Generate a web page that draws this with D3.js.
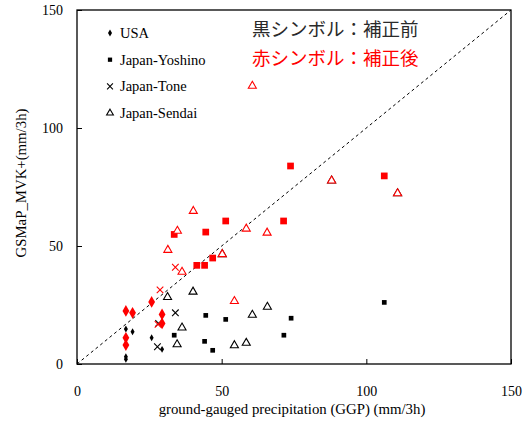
<!DOCTYPE html>
<html>
<head>
<meta charset="utf-8">
<script src="https://cdn.jsdelivr.net/npm/d3@7"></script>
<style>
  body { margin: 0; background: #fff; }
</style>
</head>
<body>
<div id="chart"></div>
<script>
let width = 532, height = 432;
let margin = { top: 10, right: 21, bottom: 68, left: 77 };
let serif = "'Liberation Serif', 'Times New Roman', serif";

// [GGP, GSMaP] pairs, before (black) and after (red) correction
let usa_before = [[16.9, 14.8], [19.2, 13.7], [25.8, 11.1], [29.4, 6.2], [16.9, 3.1], [16.9, 2.0]];
let usa_after = [[16.9, 22.5], [19.2, 21.7], [25.8, 26.3], [29.4, 21.0], [29.4, 17.2], [16.9, 11.1], [16.9, 8.0]];
let yoshino_before = [[106.2, 26.1], [44.5, 20.6], [51.4, 18.9], [74.0, 19.4], [71.5, 12.2], [44.1, 9.6], [46.9, 5.8], [33.6, 12.2]];
let yoshino_after = [[73.8, 83.9], [51.4, 60.6], [71.4, 60.6], [44.5, 55.9], [33.6, 54.9], [46.9, 44.9], [41.4, 41.8], [44.1, 41.8], [106.2, 79.7]];
let tone_before = [[34.0, 21.7], [28.2, 17.2], [27.8, 7.3]];
let tone_after = [[34.0, 41.0], [28.7, 31.4], [28.0, 16.8]];
let sendai_before = [[31.3, 28.3], [40.1, 30.6], [36.3, 15.4], [34.6, 8.3], [54.4, 7.9], [58.5, 8.9], [60.6, 20.8], [65.8, 24.2], [88.0, 77.7], [110.8, 72.3], [50.2, 46.5]];
let sendai_after = [[60.6, 117.8], [40.2, 64.8], [34.7, 56.4], [31.4, 48.3], [36.3, 39.0], [50.2, 46.5], [58.5, 57.3], [65.7, 55.6], [88.0, 77.7], [110.8, 72.3], [54.4, 26.6]];

let ticks = [0, 50, 100, 150];
let legend_names = ["USA", "Japan-Yoshino", "Japan-Tone", "Japan-Sendai"];
let note_lines = ["黒シンボル：補正前", "赤シンボル：補正後"];

let svg = d3.select("#chart").append("svg")
    .attr("width", width)
    .attr("height", height);

let x = d3.scaleLinear().domain([0, 150]).range([margin.left, width - margin.right]);
let y = d3.scaleLinear().domain([0, 150]).range([height - margin.bottom, margin.top]);

// frame
svg.append("rect")
    .attr("x", x(0)).attr("y", y(150))
    .attr("width", x(150) - x(0)).attr("height", y(0) - y(150))
    .attr("fill", "none").attr("stroke", "#000").attr("stroke-width", 1.3);

// axes with inward ticks
let xAxis = svg.append("g")
    .attr("transform", "translate(0," + y(0) + ")")
    .call(d3.axisBottom(x).tickValues(ticks).tickSize(-5).tickPadding(22).tickFormat(d3.format("d")));
xAxis.select(".domain").remove();
xAxis.attr("font-family", serif).attr("font-size", 14);
xAxis.selectAll("text").attr("fill", "#000");

let yAxis = svg.append("g")
    .attr("transform", "translate(" + x(0) + ",0)")
    .call(d3.axisLeft(y).tickValues(ticks).tickSize(-5).tickPadding(14).tickFormat(d3.format("d")));
yAxis.select(".domain").remove();
yAxis.attr("font-family", serif).attr("font-size", 14);
yAxis.selectAll("text").attr("fill", "#000");

// 1:1 line
svg.append("line")
    .attr("x1", x(0)).attr("y1", y(0))
    .attr("x2", x(150)).attr("y2", y(150))
    .attr("stroke", "#000").attr("stroke-width", 1)
    .attr("stroke-dasharray", "3,3");

// axis titles
svg.append("text")
    .attr("x", 292).attr("y", 414)
    .attr("text-anchor", "middle")
    .style("font-family", serif)
    .style("font-size", "14.8px")
    .text("ground-gauged precipitation (GGP) (mm/3h)");

svg.append("text")
    .attr("transform", "translate(26,183) rotate(-90)")
    .attr("text-anchor", "middle")
    .style("font-family", serif)
    .style("font-size", "14.8px")
    .text("GSMaP_MVK+(mm/3h)");

// marker shapes
let sym = {
    usa: d3.symbol().type(d3.symbolDiamond),
    square: d3.symbol().type(d3.symbolSquare),
    tri: d3.symbol().type(d3.symbolTriangle),
    cross: d3.symbol().type(d3.symbolX)
};

function drawSet(data, kind, color, size) {
    let g = svg.append("g");
    let filled = kind === "usa" || kind === "square";
    g.selectAll("path").data(data).enter().append("path")
        .attr("transform", d => "translate(" + x(d[0]) + "," + y(d[1]) + ")")
        .attr("d", sym[kind].size(size))
        .attr("fill", filled ? color : (kind === "tri" ? "#fff" : "none"))
        .attr("stroke", color)
        .attr("stroke-width", filled ? 0 : 1.1);
}

drawSet(usa_before, "usa", "#000", 14);
drawSet(yoshino_before, "square", "#000", 22);
drawSet(tone_before, "cross", "#000", 30);
drawSet(sendai_before, "tri", "#000", 28);

drawSet(usa_after, "usa", "#ff0000", 40);
drawSet(yoshino_after, "square", "#ff0000", 45);
drawSet(tone_after, "cross", "#ff0000", 30);
drawSet(sendai_after, "tri", "#ff0000", 28);

// legend
let kinds = ["usa", "square", "cross", "tri"];
let sizes = [14, 18, 24, 20];
legend_names.forEach(function (name, i) {
    let ly = 33 + i * 26.7;
    let filled = i < 2;
    svg.append("path")
        .attr("transform", "translate(110," + ly + ")")
        .attr("d", sym[kinds[i]].size(sizes[i]))
        .attr("fill", filled ? "#000" : "none")
        .attr("stroke", "#000")
        .attr("stroke-width", filled ? 0 : 1.1);
    svg.append("text")
        .attr("x", 120).attr("y", ly + 5)
        .style("font-family", serif)
        .style("font-size", "14.5px")
        .text(name);
});

// note
note_lines.forEach(function (t, i) {
    svg.append("text")
        .attr("x", 252).attr("y", 36 + i * 29)
        .style("font-family", "'Noto Sans CJK JP', sans-serif")
        .style("font-size", "18.5px")
        .attr("fill", i === 0 ? "#2a2a2a" : "#ff0000")
        .text(t);
});
</script>
</body>
</html>
